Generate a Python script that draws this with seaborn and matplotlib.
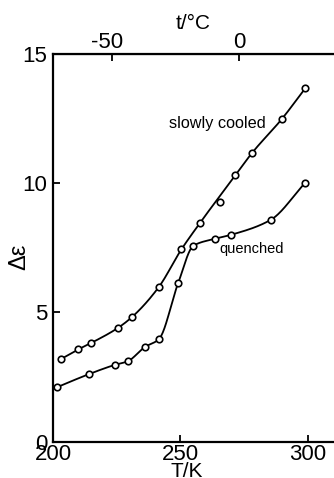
import numpy as np
import pandas as pd
import matplotlib
matplotlib.use("Agg")
import matplotlib.pyplot as plt
import matplotlib.transforms as mtrans
import seaborn as sns

# ---- data ----
slow_T = [203.0, 209.9, 214.8, 225.6, 231.2, 241.5, 250.4, 257.6, 265.4, 271.6, 278.2, 289.7, 299.0]
slow_eps = [3.19, 3.57, 3.81, 4.41, 4.84, 5.98, 7.44, 8.45, 9.26, 10.31, 11.18, 12.47, 13.67]
slow_on_curve = [1, 1, 1, 1, 1, 1, 1, 1, 0, 1, 1, 1, 1]

quench_T = [201.4, 214.0, 224.2, 229.3, 236.0, 241.5, 249.1, 255.1, 263.5, 269.7, 285.4, 298.8]
quench_eps = [2.10, 2.61, 2.97, 3.11, 3.66, 3.96, 6.13, 7.58, 7.85, 8.00, 8.58, 10.0]

bottom_ticks = [200, 250, 300]
top_ticks = [-50, 0]
y_ticks = [0, 5, 10, 15]


def pchip(x, y, xn):
    x = np.asarray(x, float); y = np.asarray(y, float)
    h = np.diff(x); d = np.diff(y) / h
    n = len(x); m = np.zeros(n)
    for k in range(1, n - 1):
        if d[k - 1] * d[k] > 0:
            w1 = 2 * h[k] + h[k - 1]; w2 = h[k] + 2 * h[k - 1]
            m[k] = (w1 + w2) / (w1 / d[k - 1] + w2 / d[k])
    m[0] = d[0]; m[-1] = d[-1]
    idx = np.clip(np.searchsorted(x, xn) - 1, 0, n - 2)
    t = (xn - x[idx]) / h[idx]
    h00 = 2 * t**3 - 3 * t**2 + 1; h10 = t**3 - 2 * t**2 + t
    h01 = -2 * t**3 + 3 * t**2; h11 = t**3 - t**2
    return h00 * y[idx] + h10 * h[idx] * m[idx] + h01 * y[idx + 1] + h11 * h[idx] * m[idx + 1]


sns.set_style("ticks")
plt.rcParams['font.family'] = ['Liberation Sans', 'DejaVu Sans']
plt.rcParams['axes.unicode_minus'] = False
plt.rcParams.update({'text.color': 'black', 'axes.labelcolor': 'black',
                     'xtick.color': 'black', 'ytick.color': 'black',
                     'axes.edgecolor': 'black'})

fig = plt.figure(figsize=(3.34, 4.78), dpi=100)
ax = fig.add_axes([53/334, 1 - 441.7/478, 1 - 53/334, (441.7 - 54)/478])

st = np.array(slow_T); se = np.array(slow_eps); sm = np.array(slow_on_curve, bool)
xs = np.linspace(st[0], st[-1], 300)
ys = pchip(st[sm], se[sm], xs)
xq = np.linspace(quench_T[0], quench_T[-1], 300)
yq = pchip(quench_T, quench_eps, xq)

lw = 1.3
sns.lineplot(x=xs, y=ys, ax=ax, color='black', lw=lw, sort=False)
sns.lineplot(x=xq, y=yq, ax=ax, color='black', lw=lw, sort=False)
pts = pd.DataFrame({'T': slow_T + quench_T, 'e': slow_eps + quench_eps})
sns.scatterplot(data=pts, x='T', y='e', ax=ax, marker='o', s=22,
                facecolor='white', edgecolor='black', linewidth=1.2, zorder=3)

ax.set_xlim(200, 310.3)
ax.set_ylim(0, 15)
ax.set_xticks(bottom_ticks)
ax.set_yticks(y_ticks)
ax.tick_params(direction='in', length=5, width=1.3, labelsize=16, pad=2)
ax.tick_params(axis='y', pad=4)
for s in ['left', 'bottom', 'top']:
    ax.spines[s].set_linewidth(1.6)
ax.spines['right'].set_visible(False)
ax.set_xlabel('T/K', fontsize=15)
ax.xaxis.set_label_coords((187 - 53) / 281, (441.7 - 462) / 387.7)
ax.set_ylabel('Δε', fontsize=17)
ax.yaxis.set_label_coords((30 - 53) / 281, (441.7 - 257) / 387.7)

sec = ax.secondary_xaxis('top', functions=(lambda T: T - 273.15, lambda t: t + 273.15))
sec.set_xticks(top_ticks)
sec.tick_params(direction='in', length=5, width=1.3, labelsize=16, pad=1)
sec.set_xlabel('t/°C', fontsize=15, labelpad=2)
fig.canvas.draw()
for lab in sec.get_xticklabels():
    if lab.get_text().startswith('-'):
        lab.set_transform(lab.get_transform() +
                          mtrans.ScaledTranslation(-5 / 100, 0, fig.dpi_scale_trans))

ax.text(245.5, 12.3, 'slowly cooled', fontsize=11.7, va='center', ha='left')
ax.text(265.4, 7.45, 'quenched', fontsize=10.5, va='center', ha='left')

fig.savefig('out.png', dpi=100)
